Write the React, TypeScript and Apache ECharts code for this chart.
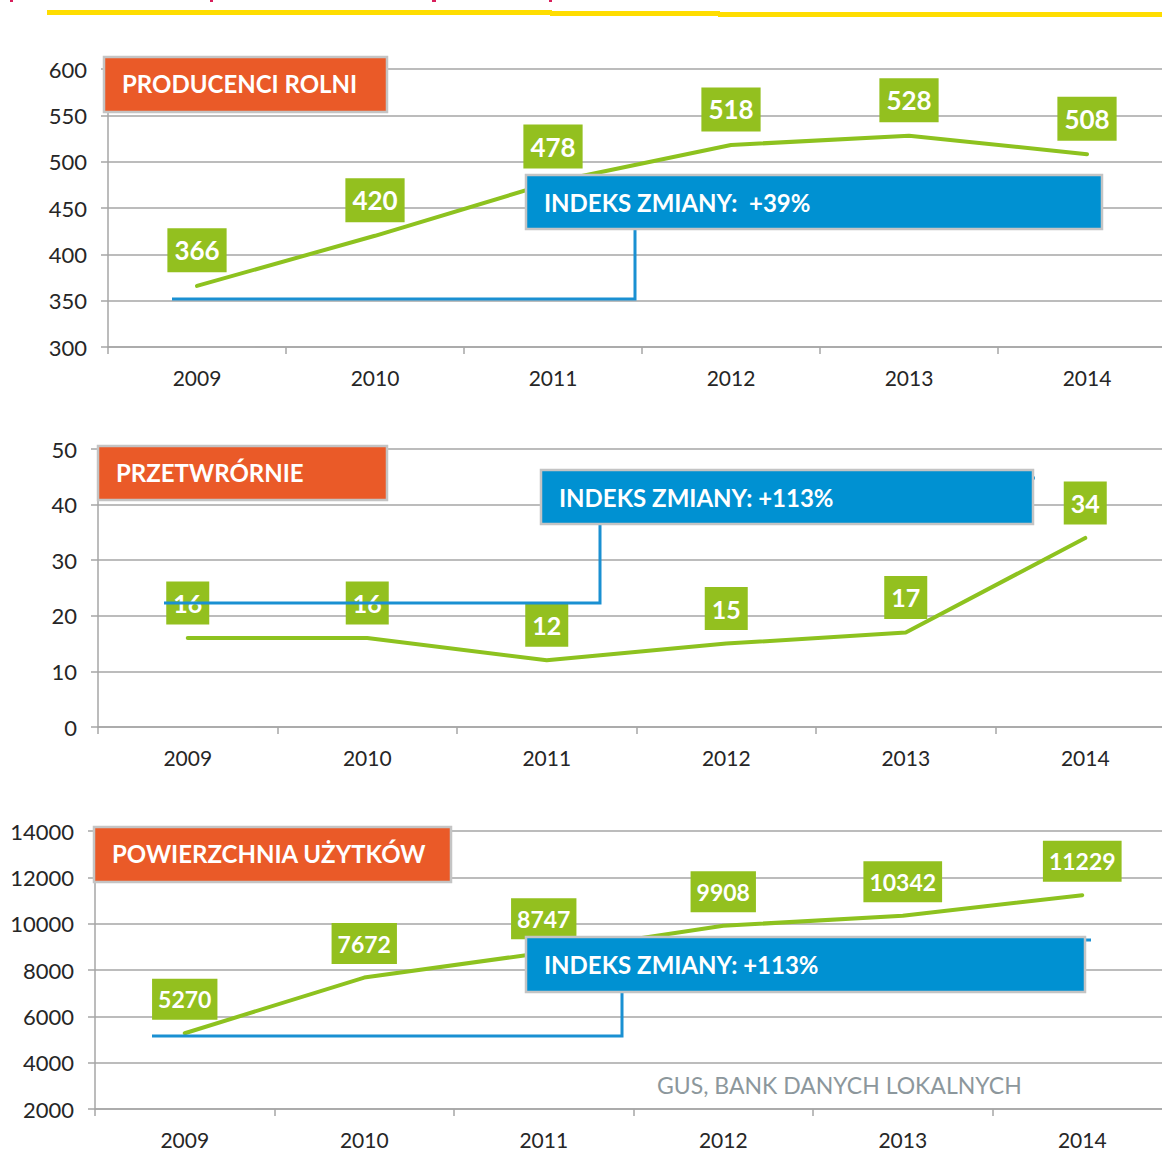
import React, { useEffect, useRef } from "react";
import * as echarts from "echarts";

const years = ["2009", "2010", "2011", "2012", "2013", "2014"];
const producenci = [366, 420, 478, 518, 528, 508];
const przetwornie = [16, 16, 12, 15, 17, 34];
const powierzchnia = [5270, 7672, 8747, 9908, 10342, 11229];

const panelTitles = ["PRODUCENCI ROLNI", "PRZETWRÓRNIE", "POWIERZCHNIA UŻYTKÓW"];
const indexTexts = ["INDEKS ZMIANY:  +39%", "INDEKS ZMIANY: +113%", "INDEKS ZMIANY: +113%"];
const sourceText = "GUS, BANK DANYCH LOKALNYCH";

const yMin = [300, 0, 2000];
const yMax = [600, 50, 14000];
const yInterval = [50, 10, 2000];

const FONT = "Lato, 'Open Sans', sans-serif";
const GREEN_LINE = "#8dc21f";
const GREEN_BOX = "#93c01f";
const BLUE = "#0091d2";
const ORANGE = "#ea5a28";
const GRID = "#a6a6a6";

export default function App() {
  const ref = useRef<HTMLDivElement>(null);
  useEffect(() => {
    if (!ref.current) return;
    const chart = echarts.init(ref.current, null, { renderer: "svg" });
    const grids = [
      { left: 108, top: 69, width: 1068, height: 278 },
      { left: 98, top: 449, width: 1077, height: 278 },
      { left: 95, top: 831, width: 1077, height: 278 },
    ];
    const seriesData = [producenci, przetwornie, powierzchnia];
    const labelFont = [26, 25, 23];
    const labelPad = [[5, 7], [5, 7], [5, 6]];

    const xAxis = grids.map((_, i) => ({
      type: "category",
      gridIndex: i,
      data: years,
      boundaryGap: true,
      axisLine: { show: true, lineStyle: { color: GRID, width: 1.5 } },
      axisTick: { show: true, length: 7, lineStyle: { color: GRID, width: 1.5 } },
      axisLabel: { color: "#262626", fontSize: 21, fontFamily: FONT, margin: 20 },
      splitLine: { show: false },
    }));
    const yAxis = grids.map((_, i) => ({
      type: "value",
      gridIndex: i,
      min: yMin[i],
      max: yMax[i],
      interval: yInterval[i],
      axisLine: { show: true, lineStyle: { color: GRID, width: 1.5 } },
      axisTick: { show: true, length: 7, lineStyle: { color: GRID, width: 1.5 } },
      axisLabel: {
        color: "#262626",
        fontSize: 22,
        fontFamily: FONT,
        margin: 21,
        formatter: (v: number) => String(v),
      },
      splitLine: { show: true, lineStyle: { color: GRID, width: 1.5 } },
    }));
    const series = seriesData.map((d, i) => ({
      type: "line",
      xAxisIndex: i,
      yAxisIndex: i,
      data: d,
      symbol: "circle",
      symbolSize: 1,
      showSymbol: true,
      itemStyle: { color: "rgba(0,0,0,0)" },
      smooth: false,
      lineStyle: { color: GREEN_LINE, width: 4, cap: "round" },
      label: {
        show: true,
        position: "top",
        distance: 13,
        backgroundColor: GREEN_BOX,
        color: "#ffffff",
        fontWeight: "bold",
        fontFamily: FONT,
        fontSize: labelFont[i],
        lineHeight: labelFont[i] + 8,
        padding: labelPad[i],
      },
    }));

    const orangeRects = [
      { x: 104, y: 57, w: 283, h: 55, tx: 122 },
      { x: 98, y: 446, w: 289, h: 54, tx: 116 },
      { x: 94, y: 827, w: 357, h: 55, tx: 112 },
    ];
    const blueRects = [
      { x: 526, y: 175, w: 576, h: 54, tx: 544 },
      { x: 541, y: 470, w: 492, h: 54, tx: 559 },
      { x: 526, y: 937, w: 559, h: 55, tx: 544 },
    ];
    const connectors = [
      [[172, 299], [635, 299], [635, 229]],
      [[164, 603], [600, 603], [600, 524]],
      [[152, 1036], [622, 1036], [622, 992]],
    ];

    const graphic: any[] = [];
    graphic.push({ type: "rect", shape: { x: 47, y: 10, width: 505, height: 5 }, style: { fill: "#ffdd00" }, z: 100 });
    graphic.push({ type: "rect", shape: { x: 550, y: 11, width: 170, height: 5 }, style: { fill: "#ffdd00" }, z: 100 });
    graphic.push({ type: "rect", shape: { x: 718, y: 12, width: 444, height: 5 }, style: { fill: "#ffdd00" }, z: 100 });
    [[10, 3], [210, 3], [432, 4], [549, 3]].forEach(([x, w]) => {
      graphic.push({ type: "rect", shape: { x, y: 0, width: w, height: 2 }, style: { fill: "#d81e5b" }, z: 100 });
    });

    connectors.forEach((pts) => {
      graphic.push({
        type: "polyline",
        shape: { points: pts },
        style: { stroke: "#1a90d2", lineWidth: 3, fill: "none" },
        z: 110,
      });
    });
    graphic.push({ type: "line", shape: { x1: 1032, y1: 478, x2: 1035, y2: 478 }, style: { stroke: "#1a90d2", lineWidth: 3 }, z: 110 });
    graphic.push({ type: "line", shape: { x1: 1084, y1: 940, x2: 1091, y2: 940 }, style: { stroke: "#1a90d2", lineWidth: 3 }, z: 110 });

    orangeRects.forEach((r, i) => {
      graphic.push({
        type: "rect",
        shape: { x: r.x, y: r.y, width: r.w, height: r.h },
        style: { fill: ORANGE, stroke: "#c4c4c4", lineWidth: 2.5 },
        z: 120,
      });
      graphic.push({
        type: "text",
        x: r.tx,
        y: r.y + r.h / 2 - 1,
        style: {
          text: panelTitles[i],
          fill: "#ffffff",
          font: `bold 24px ${FONT}`,
          verticalAlign: "middle",
          align: "left",
        },
        z: 121,
      });
    });
    blueRects.forEach((r, i) => {
      graphic.push({
        type: "rect",
        shape: { x: r.x, y: r.y, width: r.w, height: r.h },
        style: { fill: BLUE, stroke: "#c4c4c4", lineWidth: 2.5 },
        z: 120,
      });
      graphic.push({
        type: "text",
        x: r.tx,
        y: r.y + r.h / 2,
        style: {
          text: indexTexts[i],
          fill: "#ffffff",
          font: `bold 24px ${FONT}`,
          verticalAlign: "middle",
          align: "left",
        },
        z: 121,
      });
    });
    graphic.push({
      type: "text",
      x: 657,
      y: 1085,
      style: {
        text: sourceText,
        fill: "#8c979c",
        font: `23px ${FONT}`,
        verticalAlign: "middle",
        align: "left",
      },
      z: 121,
    });

    chart.setOption({
      animation: false,
      backgroundColor: "#ffffff",
      grid: grids,
      xAxis,
      yAxis,
      series,
      graphic,
    });
    return () => chart.dispose();
  }, []);
  return (
    <div
      style={{ position: "fixed", left: 0, top: 0, width: 1162, height: 1151, overflow: "hidden", background: "#fff" }}
    >
      <div ref={ref} style={{ width: 1200, height: 1151 }} />
    </div>
  );
}
